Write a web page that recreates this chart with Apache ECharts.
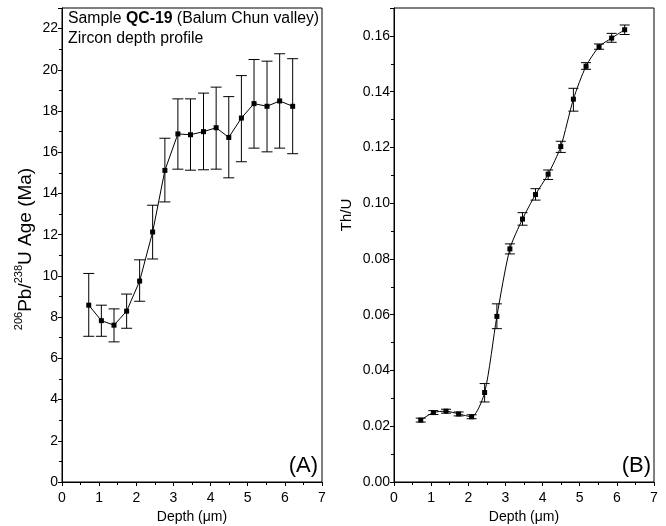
<!DOCTYPE html>
<html>
<head>
<meta charset="utf-8">
<script src="https://cdn.jsdelivr.net/npm/echarts@6/dist/echarts.min.js"></script>
<style>
  html, body { margin: 0; padding: 0; background: #fff; }
  #chart { width: 666px; height: 526px; }
</style>
</head>
<body>
<div id="chart"></div>
<script>
// depth of each spot (um), shared by both panels
const depth = [0.72, 1.06, 1.40, 1.74, 2.09, 2.44, 2.77, 3.12, 3.46, 3.81, 4.15, 4.49, 4.83, 5.17, 5.52, 5.86, 6.21]

// (A) 206Pb/238U age, Ma
const age = [8.58, 7.83, 7.61, 8.29, 9.75, 12.13, 15.12, 16.89, 16.85, 17.0, 17.19, 16.72, 17.66, 18.36, 18.23, 18.49, 18.23]
const ageLo = [7.07, 7.07, 6.8, 7.46, 8.77, 10.82, 13.59, 15.18, 15.13, 15.15, 15.18, 14.76, 15.54, 16.2, 16.02, 16.2, 15.93]
const ageHi = [10.12, 8.58, 8.4, 9.12, 10.78, 13.43, 16.68, 18.59, 18.59, 18.87, 19.16, 18.7, 19.72, 20.5, 20.42, 20.78, 20.54]

// (B) Th/U
const thu = [0.0222, 0.0249, 0.0254, 0.0244, 0.0234, 0.0321, 0.0594, 0.0836, 0.0943, 0.1031, 0.1104, 0.1203, 0.1373, 0.1491, 0.1561, 0.1592, 0.1622]
const thuLo = [0.0215, 0.0242, 0.0247, 0.0237, 0.0227, 0.0287, 0.0550, 0.0818, 0.0921, 0.1011, 0.1085, 0.1182, 0.1330, 0.1480, 0.1552, 0.1577, 0.1605]
const thuHi = [0.0229, 0.0256, 0.0261, 0.0251, 0.0241, 0.0353, 0.0639, 0.0854, 0.0966, 0.1052, 0.1119, 0.1222, 0.1412, 0.1504, 0.1571, 0.1609, 0.1639]

const FONT = "Liberation Sans"

const chart = echarts.init(document.getElementById("chart"), null, { renderer: "canvas" })

function errorBars(capHalf) {
  return function (params, api) {
    const x = api.value(0)
    const lo = api.coord([x, api.value(1)])
    const hi = api.coord([x, api.value(2)])
    const st = { stroke: "#000", lineWidth: 1 }
    return {
      type: "group",
      children: [
        { type: "line", shape: { x1: lo[0], y1: lo[1], x2: hi[0], y2: hi[1] }, style: st },
        { type: "line", shape: { x1: lo[0] - capHalf, y1: lo[1], x2: lo[0] + capHalf, y2: lo[1] }, style: st },
        { type: "line", shape: { x1: hi[0] - capHalf, y1: hi[1], x2: hi[0] + capHalf, y2: hi[1] }, style: st }
      ]
    }
  }
}

function xAxis(grid) {
  return {
    type: "value",
    gridIndex: grid,
    min: 0,
    max: 7,
    interval: 1,
    name: "Depth (\u03bcm)",
    nameLocation: "middle",
    nameGap: 27,
    nameTextStyle: { fontFamily: FONT, fontSize: 14, color: "#000" },
    axisLine: { lineStyle: { color: "#000", width: 1 } },
    axisTick: { show: true, length: 4, lineStyle: { color: "#000" } },
    minorTick: { show: true, splitNumber: 2, length: 3, lineStyle: { color: "#000" } },
    axisLabel: { fontFamily: FONT, fontSize: 14, color: "#000", margin: 9 },
    splitLine: { show: false }
  }
}

const option = {
  backgroundColor: "#fff",
  animation: false,
  grid: [
    { left: 62, right: 344, top: 8, bottom: 44, outerBoundsMode: "none", show: true, borderColor: "#000", borderWidth: 1 },
    { left: 394, right: 12, top: 8, bottom: 44, outerBoundsMode: "none", show: true, borderColor: "#000", borderWidth: 1 }
  ],
  xAxis: [xAxis(0), xAxis(1)],
  yAxis: [
    {
      type: "value",
      gridIndex: 0,
      min: 0,
      max: 23,
      interval: 2,
      name: "{s|206}{n|Pb/}{s|238}{n|U Age (Ma)}",
      nameLocation: "middle",
      nameGap: 27,
      nameTextStyle: {
        color: "#000",
        padding: [0, 8, 0, 0],
        rich: {
          n: { fontFamily: FONT, fontSize: 19, color: "#000", lineHeight: 22, verticalAlign: "bottom" },
          s: { fontFamily: FONT, fontSize: 11, color: "#000", lineHeight: 22, verticalAlign: "top" }
        }
      },
      axisLine: { lineStyle: { color: "#000", width: 1 } },
      axisTick: { show: true, length: 4, lineStyle: { color: "#000" } },
      minorTick: { show: true, splitNumber: 2, length: 3, lineStyle: { color: "#000" } },
      axisLabel: { fontFamily: FONT, fontSize: 14, color: "#000", margin: 4, showMaxLabel: false },
      splitLine: { show: false }
    },
    {
      type: "value",
      gridIndex: 1,
      min: 0,
      max: 0.17,
      interval: 0.02,
      name: "Th/U",
      nameLocation: "middle",
      nameGap: 40,
      nameTextStyle: { fontFamily: FONT, fontSize: 15, color: "#000", padding: [0, 0, 0, 60] },
      axisLine: { lineStyle: { color: "#000", width: 1 } },
      axisTick: { show: true, length: 4, lineStyle: { color: "#000" } },
      minorTick: { show: true, splitNumber: 2, length: 3, lineStyle: { color: "#000" } },
      axisLabel: {
        fontFamily: FONT, fontSize: 14, color: "#000", margin: 4, showMaxLabel: false,
        formatter: v => v.toFixed(2)
      },
      splitLine: { show: false }
    }
  ],
  graphic: [
    {
      type: "text",
      left: 68,
      top: 11,
      style: {
        text: "{n|Sample }{b|QC-19}{n| (Balum Chun valley)}\n{n|Zircon depth profile}",
        rich: {
          n: { fontFamily: FONT, fontSize: 15.8, fill: "#000", lineHeight: 20 },
          b: { fontFamily: FONT, fontSize: 15.8, fontWeight: "bold", fill: "#000", lineHeight: 20 }
        }
      }
    },
    {
      type: "text",
      right: 348,
      top: 455,
      style: { text: "(A)", font: "22px '" + FONT + "'", fill: "#000" }
    },
    {
      type: "text",
      right: 15,
      top: 455,
      style: { text: "(B)", font: "22px '" + FONT + "'", fill: "#000" }
    }
  ],
  series: [
    {
      type: "custom",
      xAxisIndex: 0,
      yAxisIndex: 0,
      renderItem: errorBars(5.5),
      data: depth.map((d, i) => [d, ageLo[i], ageHi[i]]),
      z: 2
    },
    {
      type: "line",
      xAxisIndex: 0,
      yAxisIndex: 0,
      data: depth.map((d, i) => [d, age[i]]),
      symbol: "rect",
      symbolSize: 5,
      lineStyle: { color: "#000", width: 1 },
      itemStyle: { color: "#000" },
      z: 3
    },
    {
      type: "custom",
      xAxisIndex: 1,
      yAxisIndex: 1,
      renderItem: errorBars(5),
      data: depth.map((d, i) => [d, thuLo[i], thuHi[i]]),
      z: 2
    },
    {
      type: "line",
      xAxisIndex: 1,
      yAxisIndex: 1,
      data: depth.map((d, i) => [d, thu[i]]),
      smooth: 0.25,
      symbol: "rect",
      symbolSize: 5,
      lineStyle: { color: "#000", width: 1 },
      itemStyle: { color: "#000" },
      z: 3
    }
  ]
}

chart.setOption(option)
</script>
</body>
</html>
